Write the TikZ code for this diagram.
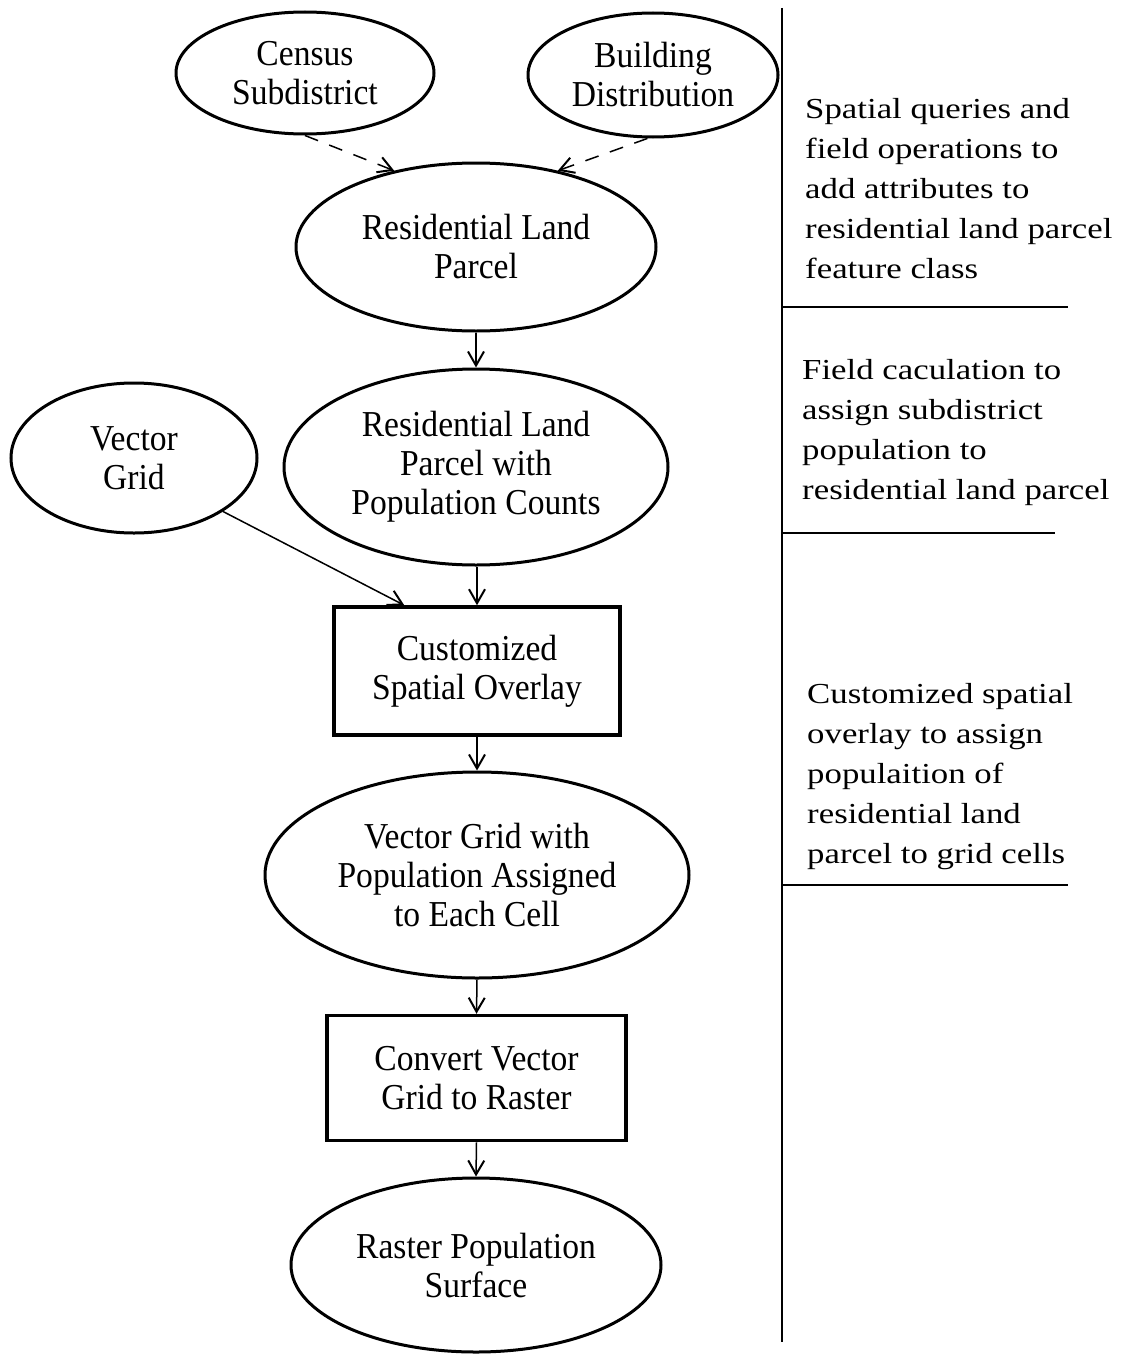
\documentclass[tikz,border=0pt]{standalone}
\usepackage{fontspec}
\setmainfont{Liberation Serif}
\newfontfamily\widefont[FakeStretch=1.2]{Liberation Serif}
\newfontfamily\narrowfont[FakeStretch=0.92]{Liberation Serif}
\usetikzlibrary{shapes.geometric,arrows.meta}
\begin{document}
\begin{tikzpicture}[x=1pt,y=-1pt,
  ell/.style={ellipse, draw, line width=3pt, inner sep=0pt, align=center,
    font=\narrowfont\fontsize{36.5}{39}\selectfont},
  procbox/.style={rectangle, draw, line width=3.5pt, inner sep=0pt, align=center,
    font=\narrowfont\fontsize{36.5}{39}\selectfont},
  flow/.style={line width=1.5pt, -{Straight Barb[length=14pt,width=16pt,line width=2pt]}},
  dflow/.style={flow, dash pattern=on 14pt off 12pt},
  divider/.style={line width=1.8pt},
  note/.style={anchor=north west, align=left, inner sep=0pt,
    font=\widefont\fontsize{29}{40}\selectfont}
]
\useasboundingbox (0,0) rectangle (1120,1354);

% nodes
\node[ell, minimum width=258pt, minimum height=122pt] (cen) at (305,73) {Census\\Subdistrict};
\node[ell, minimum width=250pt, minimum height=124pt] (bld) at (653,75) {Building\\Distribution};
\node[ell, minimum width=360pt, minimum height=168pt] (rlp) at (476,247) {Residential Land\\Parcel};
\node[ell, minimum width=246pt, minimum height=150pt] (vg) at (134,458) {Vector\\Grid};
\node[ell, minimum width=384pt, minimum height=196pt] (rlpp) at (476,467) {Residential Land\\Parcel with\\Population Counts};
\node[procbox, minimum width=286pt, minimum height=128pt] (cso) at (477,671) {Customized\\Spatial Overlay};
\node[ell, minimum width=424pt, minimum height=206pt] (vgp) at (477,875) {Vector Grid with\\Population Assigned\\to Each Cell};
\node[procbox, minimum width=299pt, minimum height=125pt] (cvg) at (476.5,1078) {Convert Vector\\Grid to Raster};
\node[ell, minimum width=370pt, minimum height=174pt] (rps) at (476,1265) {Raster Population\\Surface};

% connectors
\draw[dflow] (cen.south) -- (rlp.137);
\draw[dflow] (bld.265) -- (rlp.43);
\draw[flow] (rlp.south) -- (rlpp.north);
\draw[flow] (vg.-31) -- ([xshift=72pt]cso.north west);
\draw[flow] (cso.north |- rlpp.south) -- (cso.north);
\draw[flow] (cso.south) -- (vgp.north);
\draw[flow] (vgp.south) -- (cvg.north);
\draw[flow] (cvg.south) -- (rps.north);

% dividers
\coordinate (dtop) at (782,8);
\coordinate (dbot) at (782,1342);
\coordinate (h1a) at (782,307);
\coordinate (h1b) at (1068,307);
\coordinate (h2a) at (782,533);
\coordinate (h2b) at (1055,533);
\coordinate (h3a) at (782,885);
\coordinate (h3b) at (1068,885);
\draw[divider] (dtop) -- (dbot);
\draw[divider] (h1a) -- (h1b);
\draw[divider] (h2a) -- (h2b);
\draw[divider] (h3a) -- (h3b);

% notes
\node[note] (n1) at (805,98) {Spatial queries and\\field operations to\\add attributes to\\residential land parcel\\feature class};
\node[note] (n2) at (802,359) {Field caculation to\\assign subdistrict\\population to\\residential land parcel};
\node[note] (n3) at (807,683) {Customized spatial\\overlay to assign\\populaition of\\residential land\\parcel to grid cells};
\end{tikzpicture}
\end{document}
